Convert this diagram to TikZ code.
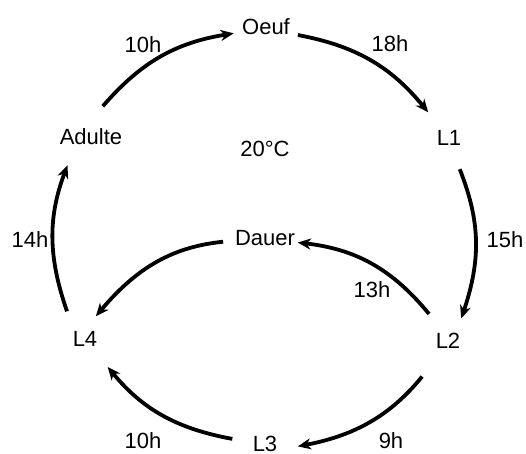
\documentclass[tikz,border=0pt]{standalone}
\usepackage{fontspec}
\setmainfont{Liberation Sans}
\usetikzlibrary{arrows.meta}

\begin{document}
\begin{tikzpicture}[x=0.5pt, y=0.5pt,
  every node/.style={font=\fontsize{11}{13}\selectfont},
  stage/.style={circle, inner sep=0pt, outer sep=0pt, minimum size=33pt},
  cyc/.style={line width=1.9pt, -{Stealth[length=6.5pt, width=5.5pt, inset=2pt]}}]
\useasboundingbox (0,0) rectangle (526,454);
\node[stage] (oeuf) at (266,427.5) {Oeuf};
\node[stage] (l1) at (449,316) {L1};
\node[stage] (l2) at (448,113) {L2};
\node[stage] (l3) at (265,10.5) {L3};
\node[stage] (l4) at (85,115) {L4};
\node[stage] (adulte) at (91,317) {Adulte};
\node[stage] (dauer) at (265,215.5) {Dauer};
\node (temp) at (265,305.5) {20°C};
\node (t10a) at (143,409) {10h};
\node (t18) at (390,410) {18h};
\node (t15) at (505,214) {15h};
\node (t13) at (372,164) {13h};
\node (t9) at (391,13) {9h};
\node (t10b) at (143,13) {10h};
\node (t14) at (30,214) {14h};
\draw[cyc] (adulte.69) to[bend left=20] (oeuf.192);
\draw[cyc] (oeuf.-15) to[bend left=20] (l1.129);
\draw[cyc, shorten >=-3.5pt] (l1.-71) to[bend left=20] (l2.62);
\draw[cyc, shorten <=5.5pt] (l2.235) to[bend left=20] (l3.-5);
\draw[cyc, shorten >=1.5pt] (l3.172) to[bend left=20] (l4.-51);
\draw[cyc, shorten >=2pt] (l4.123) to[bend left=20] (adulte.-132);
\draw[cyc] (l2.125) to[bend right=22] (dauer.-7);
\draw[cyc, shorten <=4.5pt, shorten >=-4pt] (dauer.184) to[bend right=22] (l4.61);
\end{tikzpicture}
\end{document}
